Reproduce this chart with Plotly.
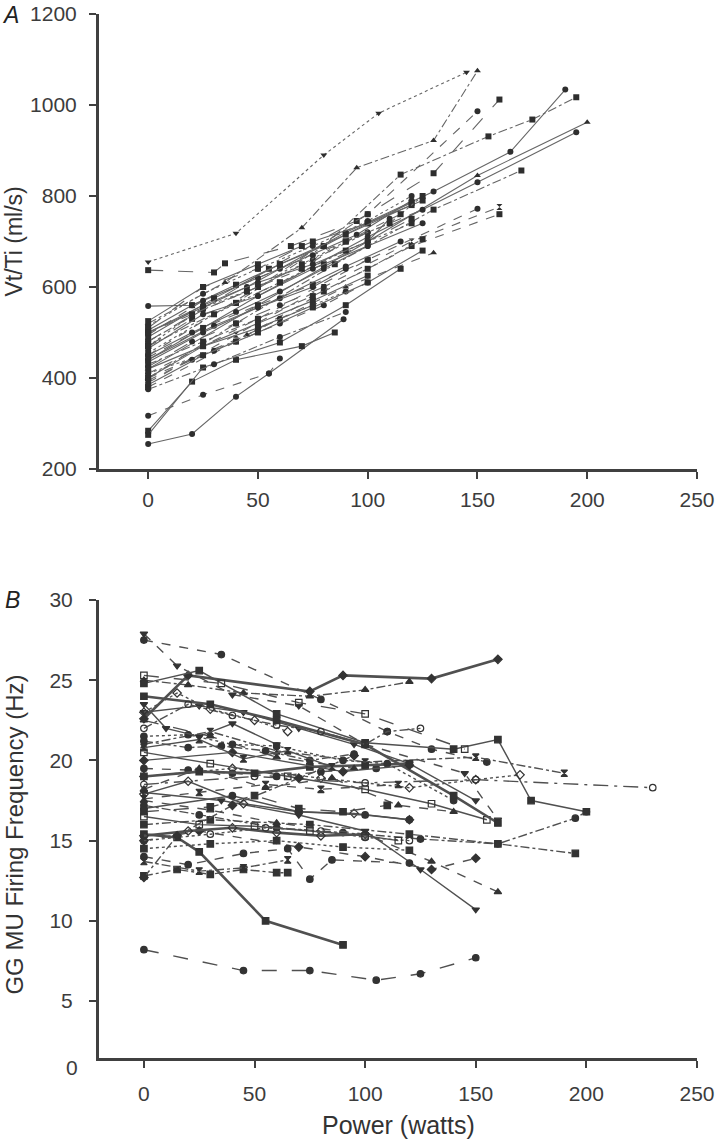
import plotly.graph_objects as go

# ---- Panel A: Vt/Ti (ml/s) against power (watts), one list per subject ----
vt_power = [
    [0, 40, 80, 105, 145],
    [0, 30, 35, 65, 95],
    [0, 35, 70, 95, 130, 150],
    [0, 40, 80, 115, 155, 175, 195],
    [0, 45, 90, 130, 165, 190],
    [0, 55, 100, 130, 160],
    [0, 50, 100, 150],
    [0, 50, 100, 150, 200],
    [0, 50, 100, 150, 195],
    [0, 40, 85, 130, 170],
    [0, 40, 80, 120, 160],
    [0, 40, 80, 120, 160],
    [0, 50, 100, 150],
    [0, 45, 90, 130],
    [0, 20, 40, 55, 89],
    [0, 20, 40, 70, 85],
    [0, 25, 55, 60],
    [0, 25, 60, 90, 115],
    [0, 20, 60, 95, 120],
    [0, 25, 50, 75, 100, 125],
    [0, 25, 50, 75, 100, 120],
    [0, 20, 40, 60, 80, 100, 120],
    [0, 25, 50, 75, 100, 125],
    [0, 30, 60, 90, 120],
    [0, 25, 50, 75, 100],
    [0, 20, 40, 60, 80, 100, 120],
    [0, 25, 50, 75, 100, 125],
    [0, 30, 60, 90, 120],
    [0, 20, 40, 60, 80, 100],
    [0, 25, 50, 75, 100],
    [0, 30, 60, 90, 115],
    [0, 25, 50, 75, 100, 125],
    [0, 20, 40, 60, 80],
    [0, 25, 50, 75, 100],
    [0, 30, 60, 90],
    [0, 25, 50, 75],
    [0, 20, 40, 60, 80, 100],
    [0, 25, 50, 75, 100, 125],
    [0, 30, 60, 90],
    [0, 25, 50, 70],
    [0, 25, 50, 75, 100, 110],
    [0, 25, 50, 70, 90, 110, 125],
    [0, 25, 50, 75, 90],
    [0, 20, 45, 70, 90, 115],
]
vt_values = [
    [655, 718, 890, 982, 1072],
    [637, 632, 652, 690, 745],
    [520, 610, 730, 862, 922, 1075],
    [470, 565, 690, 847, 931, 968, 1017],
    [500, 600, 720, 810, 897, 1034],
    [480, 640, 760, 850, 1012],
    [450, 600, 760, 986],
    [420, 560, 700, 845, 962],
    [440, 580, 710, 830, 940],
    [400, 520, 650, 770, 856],
    [390, 495, 600, 700, 776],
    [380, 480, 590, 690, 760],
    [410, 530, 660, 772],
    [400, 495, 600, 675],
    [255, 277, 359, 410, 529],
    [284, 392, 440, 470, 500],
    [317, 363, 410, 443],
    [275, 423, 478, 560, 640],
    [558, 560, 640, 715, 790],
    [525, 600, 650, 700, 740, 790],
    [515, 585, 640, 690, 745, 800],
    [505, 560, 605, 650, 690, 740, 785],
    [495, 570, 620, 670, 720, 770],
    [490, 575, 650, 715, 780],
    [480, 550, 600, 660, 720],
    [470, 530, 565, 610, 650, 700, 750],
    [465, 540, 580, 640, 690, 740],
    [455, 540, 610, 680, 740],
    [450, 500, 545, 590, 640, 690],
    [445, 510, 560, 605, 660],
    [440, 515, 575, 645, 700],
    [430, 480, 530, 580, 640, 705],
    [425, 480, 520, 560, 600],
    [420, 470, 520, 570, 625],
    [410, 460, 530, 590],
    [400, 470, 510, 560],
    [395, 440, 480, 520, 560, 610],
    [385, 450, 500, 555, 610, 680],
    [375, 430, 490, 545],
    [510, 600, 640, 690],
    [500, 560, 610, 650, 700, 750],
    [470, 555, 600, 650, 700, 740, 800],
    [435, 500, 555, 600, 640],
    [500, 540, 590, 640, 700, 760],
]

# ---- Panel B: GG motor-unit firing frequency (Hz) against power (watts) ----
ff_power = [
    [0, 45, 75, 105, 125, 150],
    [0, 15, 25, 55, 90],
    [0, 20, 75, 90, 130, 160],
    [0, 20, 45, 75, 100, 120],
    [0, 15, 40, 70, 100, 145, 160],
    [0, 35, 80, 110, 130, 155],
    [0, 25, 60, 100, 140, 160, 175, 200],
    [0, 30, 60, 100, 150, 190],
    [0, 40, 80, 120, 150, 170],
    [0, 50, 100, 150, 230],
    [0, 30, 65, 100, 130, 155],
    [0, 25, 60, 90, 125, 160, 195, 200],
    [0, 30, 75, 120, 160, 195],
    [0, 25, 70, 100, 130, 150],
    [0, 30, 60, 100, 130, 160],
    [0, 35, 70, 100, 125, 150],
    [0, 20, 45, 65, 75, 85, 120],
    [0, 15, 30, 45, 60, 65],
    [0, 25, 45, 65],
    [0, 20, 40, 60, 80, 100],
    [0, 30, 55, 80, 100, 120],
    [0, 25, 50, 75, 100, 115],
    [0, 20, 40, 60, 80, 105],
    [0, 25, 50, 75, 100, 120],
    [0, 15, 40, 70, 95],
    [0, 30, 60, 95],
    [0, 25, 45, 70, 95, 120, 150],
    [0, 20, 40, 60, 90, 110, 140],
    [0, 30, 60, 100, 140, 160],
    [0, 25, 55, 80, 115],
    [0, 20, 45, 70, 95, 120],
    [0, 20, 40, 60, 80, 100, 110, 125],
    [0, 35, 70, 100, 145],
    [0, 40, 70, 100, 120],
    [0, 30, 60, 90, 120],
    [0, 40, 90, 120],
    [0, 25, 55, 85, 115, 140],
    [0, 10, 25, 40, 60],
    [0, 20, 35, 55, 75, 95],
    [0, 30, 50, 70, 90, 110],
    [0, 25, 45, 65, 85],
    [0, 15, 30, 50, 65],
]
ff_values = [
    [8.2, 6.9, 6.9, 6.3, 6.7, 7.7],
    [15.4, 15.2, 14.3, 10.0, 8.5],
    [22.6, 25.3, 24.3, 25.3, 25.1, 26.3],
    [25.0, 24.7, 24.2, 24.0, 24.4, 24.9],
    [27.9, 25.9, 24.1, 23.4, 21.0, 19.2, 16.3],
    [27.5, 26.6, 23.8, 21.8, 20.7, 19.9],
    [24.8, 25.6, 22.9, 21.1, 20.7, 21.3, 17.5, 16.8],
    [21.0, 21.8, 20.6, 19.9, 20.2, 19.2],
    [19.0, 19.5, 18.9, 18.3, 18.8, 19.1],
    [18.5, 19.0, 18.6, 18.8, 18.3],
    [20.5, 19.8, 19.0, 18.2, 17.3, 16.3],
    [17.2, 16.6, 15.8, 15.5, 15.1, 14.8, 16.4, 16.8],
    [16.0, 16.3, 16.0, 15.4, 14.8, 14.2],
    [15.0, 15.6, 14.6, 14.0, 13.2, 13.9],
    [17.5, 16.9, 16.1, 15.4, 13.7, 11.8],
    [18.0, 17.5, 16.6, 15.6, 13.2, 10.7],
    [14.0, 13.5, 14.2, 14.5, 12.6, 13.8, 13.6],
    [12.8, 13.2, 12.9, 13.2, 13.0, 13.0],
    [13.7, 13.1, 13.3, 13.8],
    [15.3, 15.6, 15.8, 15.5, 15.3, 15.4],
    [15.0, 15.4, 15.8, 15.6, 15.2, 15.0],
    [16.5, 16.0, 15.9, 15.6, 15.3, 15.0],
    [19.5, 19.4, 19.2, 19.0, 19.3, 19.5],
    [19.0, 19.3, 19.2, 19.6, 19.7, 19.8],
    [12.7, 15.3, 17.2, 18.9, 20.3],
    [22.5, 21.5, 20.2, 19.5],
    [23.0, 23.4, 23.0, 22.0, 21.0, 19.8, 17.5],
    [21.5, 21.6, 21.0, 20.9, 20.0, 19.8, 17.5],
    [24.0, 23.5, 22.5, 21.0, 17.8, 16.1],
    [17.6, 18.0, 18.5, 18.2, 18.5],
    [17.9, 18.7, 17.3, 16.8, 16.7, 16.3],
    [22.0, 23.5, 22.8, 22.2, 21.8, 21.0, 21.8, 22.0],
    [25.3, 24.8, 23.6, 22.9, 20.7],
    [17.0, 17.8, 16.8, 16.6, 16.3],
    [14.5, 14.8, 15.0, 14.6, 14.4],
    [20.0, 20.5, 19.3, 19.7],
    [18.2, 19.5, 18.3, 18.9, 17.2, 16.8],
    [23.5, 22.0, 21.5, 22.3, 21.0],
    [21.2, 20.8, 20.9, 20.6, 20.0, 20.4],
    [16.8, 17.1, 17.8, 17.0, 16.8, 17.2],
    [20.8, 21.3, 20.1, 20.6, 19.6],
    [23.0, 24.2, 23.2, 22.5, 21.8],
]

x_ticks = [0, 50, 100, 150, 200, 250]
vt_ticks = [200, 400, 600, 800, 1000, 1200]
ff_ticks = [5, 10, 15, 20, 25, 30]

# styling cycles
DASHES = ["dot", "longdash", "dashdot", "dashdot", "solid", "longdash", "dash",
          "solid", "solid", "dashdot", "dash", "dash", "dash", "dash", "solid",
          "solid", "dash", "solid", "solid"]
MID_DASHES = ["solid", "dash", "solid", "dashdot", "longdash", "solid", "dot"]
SYMBOLS = ["circle", "square", "diamond", "triangle-up", "triangle-down",
           "circle", "square", "hourglass", "diamond-open", "circle-open",
           "square-open"]
THICK_B = {1, 2, 19, 23, 28}

AX = "#404040"
FONT = "Liberation Sans, Arial, Helvetica, sans-serif"

fig = go.Figure()

for i, (xs, ys) in enumerate(zip(vt_power, vt_values)):
    dash = DASHES[i] if i < len(DASHES) else MID_DASHES[i % len(MID_DASHES)]
    sym = ["circle", "square"][i % 2]
    if i in (0, 2, 7, 13):
        sym = "triangle-down" if i == 0 else "triangle-up"
    if i == 10:
        sym = "hourglass"
    fig.add_trace(go.Scatter(
        x=xs, y=ys, mode="lines+markers", xaxis="x", yaxis="y",
        line=dict(color="#666666", width=1.1, dash=dash),
        marker=dict(symbol=sym, size=6, color="#2e2e2e"),
        showlegend=False, hoverinfo="skip",
    ))

B_DASHES = ["longdash", "solid", "solid", "dashdot", "dash", "dash", "solid",
            "dashdot", "dot", "longdashdot", "solid", "dashdot", "dashdot",
            "dash", "dash", "solid", "dash", "dashdot", "dashdot"]
for i, (xs, ys) in enumerate(zip(ff_power, ff_values)):
    dash = B_DASHES[i] if i < len(B_DASHES) else MID_DASHES[i % len(MID_DASHES)]
    sym = SYMBOLS[i % len(SYMBOLS)]
    width = 2.6 if i in THICK_B else 1.4
    fig.add_trace(go.Scatter(
        x=xs, y=ys, mode="lines+markers", xaxis="x2", yaxis="y2",
        line=dict(color="#505050", width=width, dash=dash),
        marker=dict(symbol=sym, size=6.5, color="#333333",
                    line=dict(color="#333333", width=1.2)),
        showlegend=False, hoverinfo="skip",
    ))

axis_common = dict(
    showgrid=False, zeroline=False, showline=True, linewidth=3, linecolor=AX,
    ticks="outside", ticklen=7, tickwidth=2, tickcolor=AX, automargin=False,
    ticklabeloverflow="allow",
    tickfont=dict(family=FONT, size=21, color="#3c3c3c"),
)

fig.update_layout(
    width=720, height=1148,
    margin=dict(l=99, r=23, t=14, b=90),
    paper_bgcolor="white", plot_bgcolor="white",
    font=dict(family=FONT, color="#333333"),
    xaxis=dict(axis_common, domain=[0, 1], range=[-22.4, 250],
               tickvals=x_ticks, anchor="y", ticklabelstandoff=3),
    yaxis=dict(axis_common, domain=[0.5642, 1], range=[200, 1200],
               tickvals=vt_ticks, anchor="x", ticklabelstandoff=8),
    xaxis2=dict(axis_common, domain=[0, 1], range=[-20.3, 250],
                tickvals=x_ticks, anchor="y2", ticklabelstandoff=8),
    yaxis2=dict(axis_common, domain=[0, 0.4387], range=[1.45, 30],
                tickvals=ff_ticks, anchor="x2", ticklabelstandoff=12),
)

annots = [
    dict(text="<i>A</i>", x=0, y=1, xref="paper", yref="paper",
         xanchor="center", yanchor="middle", xshift=-89, yshift=-1,
         font=dict(size=23, family=FONT, color="#222")),
    dict(text="<i>B</i>", x=0, y=0.4387, xref="paper", yref="paper",
         xanchor="center", yanchor="middle", xshift=-87, yshift=0,
         font=dict(size=23, family=FONT, color="#222")),
    dict(text="Vt/Ti (ml/s)", x=0, y=0.782, xref="paper", yref="paper",
         xanchor="center", yanchor="middle", xshift=-85, textangle=-90,
         font=dict(size=23, family=FONT, color="#333")),
    dict(text="GG MU Firing Frequency (Hz)", x=0, y=0.214, xref="paper", yref="paper",
         xanchor="center", yanchor="middle", xshift=-84, textangle=-90,
         font=dict(size=24, family=FONT, color="#333")),
    dict(text="Power (watts)", x=0.5, y=0, xref="paper", yref="paper",
         xanchor="center", yanchor="middle", yshift=-67,
         font=dict(size=25, family=FONT, color="#333")),
    dict(text="0", x=0, y=0, xref="paper", yref="paper",
         xanchor="right", yanchor="middle", xshift=-19, yshift=-9,
         font=dict(size=21, family=FONT, color="#3c3c3c")),
]
for a in annots:
    a["showarrow"] = False
fig.update_layout(annotations=annots)

# drop the browser's default 8px body margin so the figure sits at the page corner
fig.write_html("out.html", config={"displayModeBar": False},
               post_script="document.body.style.margin='0';")
